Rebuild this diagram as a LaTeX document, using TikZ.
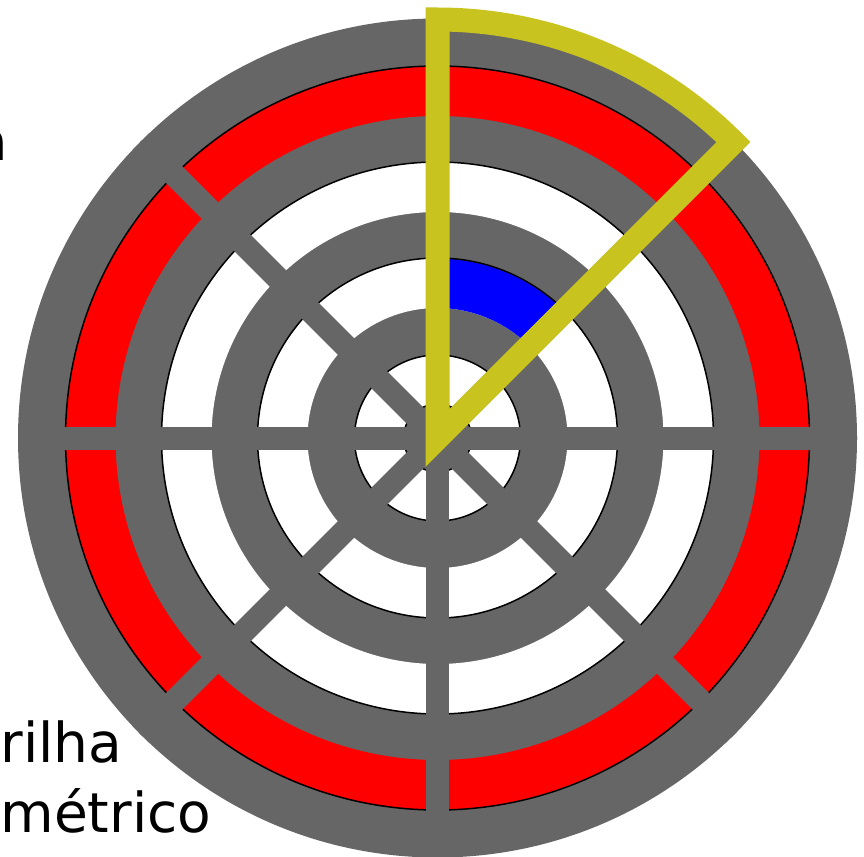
\documentclass[tikz,border=0pt]{standalone}
\usepackage{fontspec}
\setmainfont{DejaVu Sans}
\definecolor{diskgray}{RGB}{102,102,102}
\definecolor{selyellow}{RGB}{200,195,30}
\begin{document}
\begin{tikzpicture}[x=1pt,y=1pt,
  every node/.style={inner sep=0pt,outer sep=0pt},
  labeltext/.style={font=\fontsize{55}{66}\selectfont, anchor=base west},
  rimline/.style={black, line width=1.5pt},
  spokeline/.style={diskgray, line width=23pt},
  selframe/.style={selyellow, line width=24pt, line join=miter}]
\useasboundingbox (0,-856) rectangle (864,0);
\clip (0,-856) rectangle (864,0);
\node[labeltext, anchor=base east] (lbltop) at (8,-160) {a};
\node[labeltext] (lbltrack) at (0.5,-762) {rilha};
\node[labeltext] (lblsector) at (0.5,-832) {métrico};
\begin{scope}[shift={(437.5,-438)}]
  % platter
  \fill[diskgray] (0,0) circle[radius=419.5];
  % outer track (red)
  \fill[red, even odd rule] (0,0) circle[radius=372] (0,0) circle[radius=322];
  \draw[rimline] (0,0) circle[radius=372];
  % second track (white)
  \fill[white, even odd rule] (0,0) circle[radius=276] (0,0) circle[radius=226];
  \draw[rimline] (0,0) circle[radius=276];
  % third track (white) with blue sector
  \fill[white, even odd rule] (0,0) circle[radius=180] (0,0) circle[radius=130];
  \fill[blue] (45:180) arc[start angle=45, end angle=90, radius=180]
     -- (90:130) arc[start angle=90, end angle=45, radius=130] -- cycle;
  \draw[rimline] (0,0) circle[radius=180];
  % innermost track (white)
  \fill[white, even odd rule] (0,0) circle[radius=83] (0,0) circle[radius=34];
  \draw[rimline] (0,0) circle[radius=83];
  \draw[rimline] (0,0) circle[radius=34];
  % spokes
  \begin{scope}
    \clip (0,0) circle[radius=419.5];
    \foreach \a in {0,45,90,135} {
      \draw[spokeline] (\a+180:425) -- (\a:425);
    }
  \end{scope}
  % geometric sector outline
  \draw[selframe] (0,0) -- (90:418.5) arc[start angle=90, end angle=45, radius=418.5] -- cycle;
\end{scope}
\end{tikzpicture}
\end{document}
